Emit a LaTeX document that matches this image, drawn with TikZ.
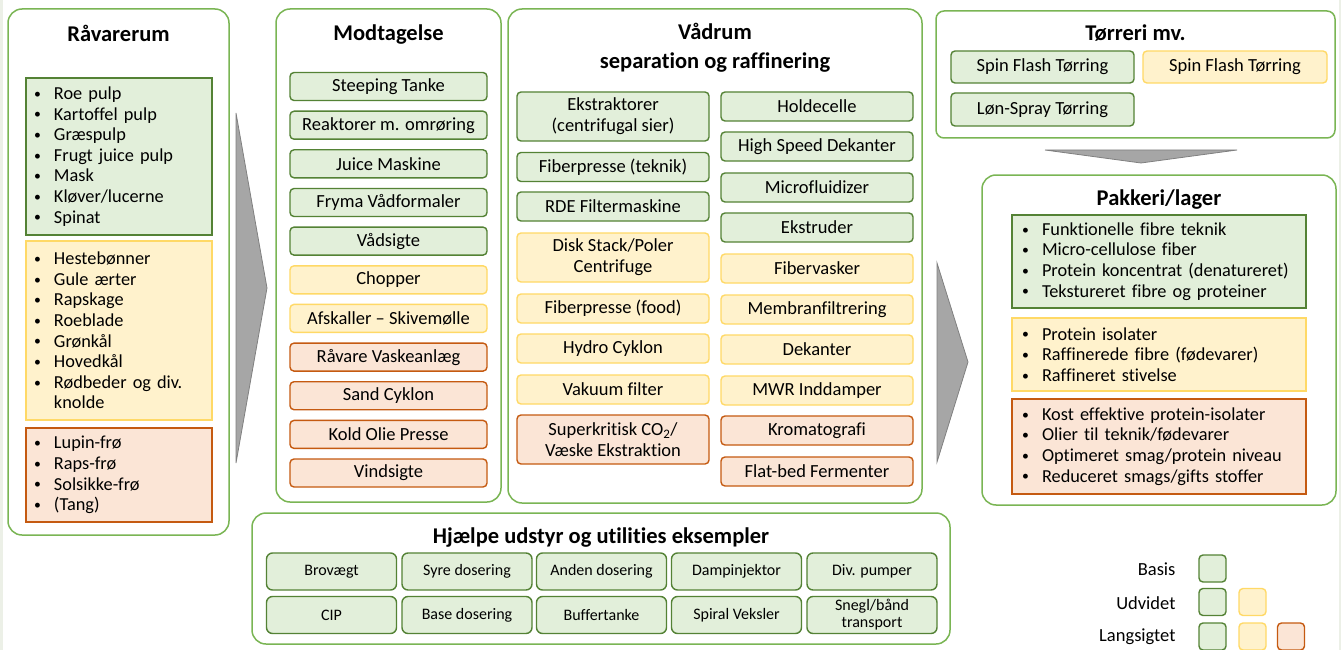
\documentclass[tikz,border=0pt]{standalone}
\usepackage{fontspec}
\setmainfont{Carlito}[Ligatures=NoCommon]
\definecolor{panelgreen}{RGB}{122,181,84}
\definecolor{boxgreen}{RGB}{84,130,53}
\definecolor{fillgreen}{RGB}{226,239,218}
\definecolor{boxyellow}{RGB}{255,217,102}
\definecolor{fillyellow}{RGB}{255,242,204}
\definecolor{boxorange}{RGB}{197,90,17}
\definecolor{fillorange}{RGB}{251,229,214}
\definecolor{arrowgrey}{RGB}{166,166,166}
\definecolor{edgegrey}{RGB}{128,128,128}
\definecolor{slide}{RGB}{236,240,231}
\newcommand{\bul}{\makebox[20pt][l]{\raisebox{1.2pt}{\scalebox{0.75}{\textbullet}}}}
\begin{document}
\begin{tikzpicture}[x=1pt,y=-1pt,
  every node/.style={text=black},
  panel/.style={draw=panelgreen,line width=1.5pt,rounded corners=14pt,fill=white},
  ttl/.style={font=\bfseries\fontsize{22.5}{29}\selectfont,align=center},
  gbox/.style={draw=boxgreen,fill=fillgreen,line width=1.4pt,rounded corners=4pt,
    font=\fontsize{18.5}{20.8}\selectfont,align=center,inner sep=0pt},
  ybox/.style={gbox,draw=boxyellow,fill=fillyellow},
  obox/.style={gbox,draw=boxorange,fill=fillorange},
  modbox/.style={minimum width=197pt,minimum height=28pt},
  vbox/.style={minimum width=192pt,minimum height=29pt},
  vbox2/.style={minimum width=192pt,minimum height=49pt},
  tbox/.style={minimum width=183pt,minimum height=32pt},
  hbox/.style={rounded corners=6pt,minimum width=130pt,minimum height=37pt,font=\fontsize{16}{17}\selectfont},
  rlist/.style={sharp corners,align=left,text width=170pt,inner xsep=8pt,font=\fontsize{18.3}{20.6}\selectfont},
  plist/.style={sharp corners,align=left,text width=274pt,inner xsep=10pt,font=\fontsize{18.3}{20.6}\selectfont},
  legsq/.style={minimum size=27pt,rounded corners=4pt},
  leg/.style={anchor=east,font=\fontsize{18.5}{20}\selectfont},
  blockarrow/.style={fill=arrowgrey,draw=edgegrey,line width=0.8pt,line join=miter}]
\useasboundingbox (0,0) rectangle (1341,650);
\fill[slide] (0,0) rectangle (3,650);
\fill[slide] (1339,0) rectangle (1341,650);

\node[panel,minimum width=221pt,minimum height=526pt] (raavare) at (118.5,272) {};
\node[ttl] (raavare-t) at (118.5,33) {Råvarerum};
\node[gbox,rlist,minimum height=157pt] (raa-basis) at (119,156.5) {\bul Roe pulp\\\bul Kartoffel pulp\\\bul Græspulp\\\bul Frugt juice pulp\\\bul Mask\\\bul Kløver/lucerne\\\bul Spinat};
\node[ybox,rlist,minimum height=179pt] (raa-udv) at (119,330.5) {\bul Hestebønner\\\bul Gule ærter\\\bul Rapskage\\\bul Roeblade\\\bul Grønkål\\\bul Hovedkål\\\bul Rødbeder og div.\\\makebox[20pt]{}knolde};
\node[obox,rlist,minimum height=94pt] (raa-lang) at (119,475) {\bul Lupin-frø\\\bul Raps-frø\\\bul Solsikke-frø\\\bul (Tang)};

\draw[blockarrow] (236,113) -- (267,288) -- (236,463) -- cycle;

\node[panel,minimum width=225pt,minimum height=493pt] (modtag) at (388.5,255.5) {};
\node[ttl] (modtag-t) at (388.5,35) {Modtagelse};
\node[gbox,modbox] (steeping) at (388.5,86.5) {Steeping Tanke};
\node[gbox,modbox] (reaktor) at (388.5,125.2) {Reaktorer m. omrøring};
\node[gbox,modbox] (juice) at (388.5,163.8) {Juice Maskine};
\node[gbox,modbox] (fryma) at (388.5,202.5) {Fryma Vådformaler};
\node[gbox,modbox] (vaadsigte) at (388.5,241.1) {Vådsigte};
\node[ybox,modbox] (chopper) at (388.5,279.8) {Chopper};
\node[ybox,modbox] (afskaller) at (388.5,318.4) {Afskaller – Skivemølle};
\node[obox,modbox] (vaskeanlaeg) at (388.5,357.1) {Råvare Vaskeanlæg};
\node[obox,modbox] (sandcyklon) at (388.5,395.7) {Sand Cyklon};
\node[obox,modbox] (oliepresse) at (388.5,434.4) {Kold Olie Presse};
\node[obox,modbox] (vindsigte) at (388.5,473) {Vindsigte};

\node[panel,minimum width=414pt,minimum height=494pt] (vaadrum) at (715,256) {};
\node[ttl] (vaadrum-t) at (715,48) {Vådrum\\separation og raffinering};
\node[gbox,vbox2] (ekstraktor) at (613,116.5) {Ekstraktorer\\(centrifugal sier)};
\node[gbox,vbox] (fiber-teknik) at (613,167) {Fiberpresse (teknik)};
\node[gbox,vbox] (rde) at (613,206.5) {RDE Filtermaskine};
\node[ybox,vbox2] (diskstack) at (613,257.5) {Disk Stack/Poler\\Centrifuge};
\node[ybox,vbox] (fiber-food) at (613,308.5) {Fiberpresse (food)};
\node[ybox,vbox] (hydrocyklon) at (613,348.5) {Hydro Cyklon};
\node[ybox,vbox] (vakuum) at (613,389.5) {Vakuum filter};
\node[obox,vbox2] (superkritisk) at (613,439.5) {Superkritisk CO\textsubscript{2}/\\Væske Ekstraktion};
\node[gbox,vbox] (holdecelle) at (817,106.5) {Holdecelle};
\node[gbox,vbox] (hs-dekanter) at (817,146.5) {High Speed Dekanter};
\node[gbox,vbox] (microfluid) at (817,187.5) {Microfluidizer};
\node[gbox,vbox] (ekstruder) at (817,227.5) {Ekstruder};
\node[ybox,vbox] (fibervasker) at (817,268.5) {Fibervasker};
\node[ybox,vbox] (membran) at (817,309.5) {Membranfiltrering};
\node[ybox,vbox] (dekanter) at (817,349.5) {Dekanter};
\node[ybox,vbox] (inddamper) at (817,390.5) {MWR Inddamper};
\node[obox,vbox] (kromatografi) at (817,430.5) {Kromatografi};
\node[obox,vbox] (fermenter) at (817,471.5) {Flat-bed Fermenter};

\node[panel,rounded corners=8pt,minimum width=399pt,minimum height=127pt] (toerreri) at (1135.5,74.5) {};
\node[ttl] (toerreri-t) at (1135.5,33) {Tørreri mv.};
\node[gbox,tbox] (spinflash-g) at (1042.5,67) {Spin Flash Tørring};
\node[ybox,tbox,minimum width=184pt] (spinflash-y) at (1235,67) {Spin Flash Tørring};
\node[gbox,tbox,minimum height=33pt] (spray) at (1042.5,109.5) {Løn-Spray Tørring};

\draw[blockarrow] (1045,150) -- (1237,150) -- (1141,163) -- cycle;
\draw[blockarrow] (937,263) -- (968,362) -- (937,462) -- cycle;

\node[panel,minimum width=354pt,minimum height=330pt] (pakkeri) at (1159,340) {};
\node[ttl] (pakkeri-t) at (1159,200) {Pakkeri/lager};
\node[gbox,plist,minimum height=93pt] (pak-basis) at (1159,261.5) {\bul Funktionelle fibre teknik\\\bul Micro-cellulose fiber\\\bul Protein koncentrat (denatureret)\\\bul Tekstureret fibre og proteiner};
\node[ybox,plist,minimum height=73pt] (pak-udv) at (1159,354.5) {\bul Protein isolater\\\bul Raffinerede fibre (fødevarer)\\\bul Raffineret stivelse};
\node[obox,plist,minimum height=95pt] (pak-lang) at (1159,446.5) {\bul Kost effektive protein-isolater\\\bul Olier til teknik/fødevarer\\\bul Optimeret smag/protein niveau\\\bul Reduceret smags/gifts stoffer};

\node[panel,minimum width=698pt,minimum height=131pt] (hjaelpe) at (601,578.5) {};
\node[ttl] (hjaelpe-t) at (601,538) {Hjælpe udstyr og utilities eksempler};
\node[gbox,hbox] (brovaegt) at (331.5,571.5) {Brovægt};
\node[gbox,hbox] (syre) at (467,571.5) {Syre dosering};
\node[gbox,hbox] (anden) at (601.5,571.5) {Anden dosering};
\node[gbox,hbox] (damp) at (736.5,571.5) {Dampinjektor};
\node[gbox,hbox] (pumper) at (872,571.5) {Div. pumper};
\node[gbox,hbox] (cip) at (331.5,615) {CIP};
\node[gbox,hbox] (base) at (467,615) {Base dosering};
\node[gbox,hbox] (buffer) at (601.5,615) {Buffertanke};
\node[gbox,hbox] (spiral) at (736.5,615) {Spiral Veksler};
\node[gbox,hbox] (snegl) at (872,615) {Snegl/bånd\\transport};

\node[leg] (basis) at (1179,569) {Basis};
\node[leg] (udvidet) at (1179,603) {Udvidet};
\node[leg] (langsigtet) at (1179,637) {Langsigtet};
\node[gbox,legsq] (basis-g) at (1212.5,568.5) {};
\node[gbox,legsq] (udvidet-g) at (1212.5,602) {};
\node[ybox,legsq] (udvidet-y) at (1252.5,602) {};
\node[gbox,legsq] (lang-g) at (1212.5,636.5) {};
\node[ybox,legsq] (lang-y) at (1252.5,636.5) {};
\node[obox,legsq] (lang-o) at (1291,636.5) {};
\end{tikzpicture}
\end{document}
